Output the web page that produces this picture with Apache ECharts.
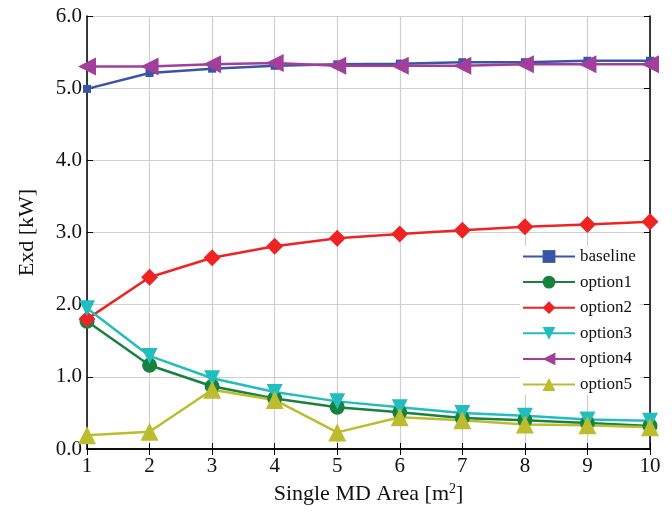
<!DOCTYPE html>
<html>
<head>
<meta charset="utf-8">
<script src="https://cdn.jsdelivr.net/npm/echarts@6/dist/echarts.min.js"></script>
<style>
  html, body { margin: 0; padding: 0; background: #fff; }
  #main { width: 672px; height: 516px; }
</style>
</head>
<body>
<div id="main"></div>
<script>
var areas = [1, 2, 3, 4, 5, 6, 7, 8, 9, 10];
var baseline = [4.99, 5.21, 5.27, 5.31, 5.33, 5.34, 5.36, 5.36, 5.38, 5.38];
var option1 = [1.77, 1.16, 0.87, 0.70, 0.58, 0.51, 0.43, 0.40, 0.36, 0.32];
var option2 = [1.80, 2.38, 2.65, 2.81, 2.92, 2.98, 3.03, 3.08, 3.11, 3.15];
var option3 = [1.95, 1.29, 0.98, 0.79, 0.66, 0.58, 0.50, 0.46, 0.41, 0.39];
var option4 = [5.30, 5.30, 5.33, 5.35, 5.31, 5.31, 5.31, 5.33, 5.33, 5.33];
var option5 = [0.19, 0.24, 0.82, 0.68, 0.23, 0.44, 0.40, 0.34, 0.33, 0.30];
var yTicks = [0, 1, 2, 3, 4, 5, 6];

var font = 'Liberation Serif';
var myChart = echarts.init(document.getElementById('main'));

function pairs(arr) {
    return arr.map(function (v, i) { return [areas[i], v]; });
}

function line(name, data, color, symbol, size, rotate) {
    return {
        name: name,
        type: 'line',
        data: pairs(data),
        symbol: symbol,
        symbolSize: size,
        symbolRotate: rotate || 0,
        lineStyle: { color: color, width: 2.5 },
        itemStyle: { color: color },
        emphasis: { disabled: true },
        animation: false
    };
}

var frameLine = { lineStyle: { color: '#000', width: 1.5 } };
var frameTick = { inside: true, length: 6, lineStyle: { color: '#000' } };
var gridLine = { show: true, lineStyle: { color: '#cfcfcf', width: 1.2 } };

myChart.setOption({
    backgroundColor: '#fff',
    textStyle: { fontFamily: font },
    grid: { left: 87, right: 22, top: 16, bottom: 67 },
    legend: {
        orient: 'vertical',
        left: 520,
        top: 246,
        itemWidth: 52,
        itemHeight: 16,
        itemGap: 8.6,
        backgroundColor: '#fff',
        padding: [2, 4, 2, 2],
        textStyle: { fontFamily: font, fontSize: 17, color: '#111' },
        data: ['baseline', 'option1', 'option2', 'option3', 'option4', 'option5']
    },
    xAxis: [{
        type: 'value',
        min: 1,
        max: 10,
        interval: 1,
        name: 'Single MD Area [m{sup|2}]',
        nameLocation: 'middle',
        nameGap: 31,
        nameTextStyle: {
            fontFamily: font, fontSize: 22, color: '#111',
            rich: { sup: { fontFamily: font, fontSize: 14, color: '#111', verticalAlign: 'top', padding: [0, 0, 10, 0] } }
        },
        axisLine: frameLine,
        axisTick: frameTick,
        axisLabel: { fontFamily: font, fontSize: 21, color: '#111', margin: 7 },
        splitLine: gridLine
    }, {
        type: 'value', min: 1, max: 10, interval: 1, position: 'top',
        axisLine: frameLine, axisTick: frameTick,
        axisLabel: { show: false }, splitLine: { show: false }
    }],
    yAxis: [{
        type: 'value',
        min: yTicks[0],
        max: yTicks[yTicks.length - 1],
        interval: 1,
        name: 'Exd [kW]',
        nameLocation: 'middle',
        nameGap: 49,
        nameTextStyle: { fontFamily: font, fontSize: 22, color: '#111' },
        axisLine: frameLine,
        axisTick: frameTick,
        axisLabel: {
            fontFamily: font, fontSize: 21, color: '#111', margin: 5,
            formatter: function (v) { return v.toFixed(1); }
        },
        splitLine: gridLine
    }, {
        type: 'value', min: 0, max: 6, interval: 1, position: 'right',
        axisLine: frameLine, axisTick: frameTick,
        axisLabel: { show: false }, splitLine: { show: false }
    }],
    series: [
        line('baseline', baseline, '#3a55a8', 'rect', 8),
        line('option1', option1, '#17813f', 'circle', 15),
        line('option2', option2, '#ee2424', 'diamond', 17),
        line('option3', option3, '#22bdbd', 'triangle', 16, 180),
        line('option4', option4, '#a23f9a', 'triangle', 18, 90),
        line('option5', option5, '#bcbd2e', 'triangle', 18)
    ]
});
</script>
</body>
</html>
